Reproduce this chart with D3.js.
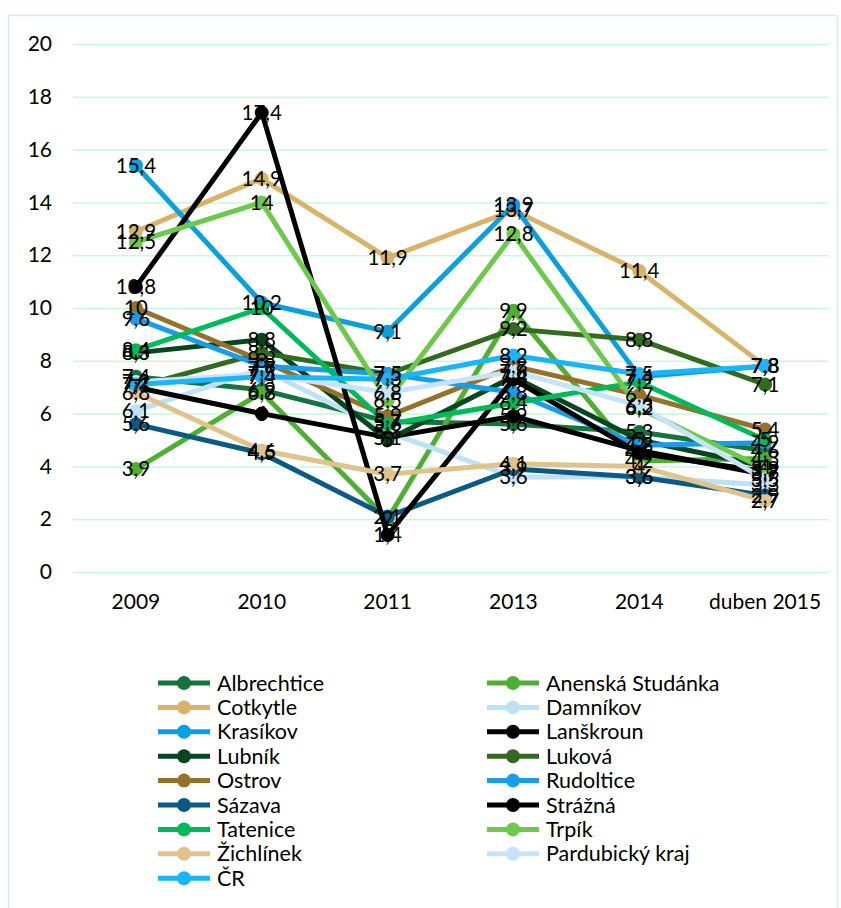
<!DOCTYPE html>
<html><head><meta charset="utf-8">
<script src="https://cdn.jsdelivr.net/npm/d3@7"></script>
<style>
body{margin:0;background:#fff;}
svg{font-family:Lato,"Noto Sans",sans-serif;}
</style></head><body>
<svg id="c" width="841" height="908"></svg>
<script>
const categories = ["2009","2010","2011","2013","2014","duben 2015"];
const yTicks = [0,2,4,6,8,10,12,14,16,18,20];
const seriesNames = ["Albrechtice","Anenská Studánka","Cotkytle","Damníkov","Krasíkov","Lanškroun","Lubník","Luková","Ostrov","Rudoltice","Sázava","Strážná","Tatenice","Trpík","Žichlínek","Pardubický kraj","ČR"];
const seriesColors = ["#17733d","#4faf32","#d9b36a","#bfe1f6","#0a9fe0","#000000","#08461f","#326b20","#95722a","#1b9ceb","#0b5a86","#000000","#00b95b","#6cc94b","#e0c38c","#c6e4f8","#19b5f7"];
const vAlbrechtice   = [7.4, 6.9, 5.7, 5.6, 5.3, 4.6];
const vAnenska       = [3.9, 6.8, 2.0, 9.9, 4.2, 4.3];
const vCotkytle      = [12.9, 14.9, 11.9, 13.7, 11.4, 7.8];
const vDamnikov      = [6.1, 7.7, 5.3, 3.6, 3.6, 3.3];
const vKrasikov      = [15.4, 10.2, 9.1, 13.9, 7.4, 7.8];
const vLanskroun     = [7.0, 6.0, 5.1, 5.9, 4.6, 3.7];
const vLubnik        = [8.3, 8.8, 5.0, 7.4, 5.0, 4.0];
const vLukova        = [7.0, 8.3, 7.5, 9.2, 8.8, 7.1];
const vOstrov        = [10.0, 8.0, 5.9, 7.8, 6.7, 5.4];
const vRudoltice     = [9.6, 7.8, 7.5, 6.8, 4.8, 4.9];
const vSazava        = [5.6, 4.5, 2.1, 3.9, 3.6, 2.9];
const vStrazna       = [10.8, 17.4, 1.4, 7.3, 4.5, 3.8];
const vTatenice      = [8.4, 10.0, 5.6, 6.4, 7.2, 5.0];
const vTrpik         = [12.5, 14.0, 6.5, 12.8, 6.2, 3.9];
const vZichlinek     = [6.8, 4.6, 3.7, 4.1, 4.0, 2.7];
const vPardubicky    = [7.2, 7.5, 6.8, 7.6, 6.3, 3.5];
const vCR            = [7.1, 7.4, 7.3, 8.2, 7.5, 7.8];
const seriesValues = [vAlbrechtice,vAnenska,vCotkytle,vDamnikov,vKrasikov,vLanskroun,vLubnik,vLukova,vOstrov,vRudoltice,vSazava,vStrazna,vTatenice,vTrpik,vZichlinek,vPardubicky,vCR];

const series = seriesNames.map((n,i)=>({name:n,color:seriesColors[i],values:seriesValues[i]}));
const svg = d3.select("#c");
const grid = "#c9f7dd";
svg.append("rect").attr("x",8.5).attr("y",15.5).attr("width",829).attr("height",905)
  .attr("fill","none").attr("stroke",grid).attr("stroke-width",1.5);

const x = d3.scaleBand().domain(categories).range([73,828]);
const y = d3.scaleLinear().domain([0,20]).range([572,44]);
const fmt = v => String(v).replace(".",",");

const gy = svg.append("g").attr("transform","translate(73,0)")
  .call(d3.axisLeft(y).tickValues(yTicks).tickSize(-755).tickPadding(21).tickFormat(d=>d));
gy.select(".domain").remove();
gy.selectAll(".tick line").attr("stroke",grid).attr("stroke-width",1.5);
gy.selectAll(".tick text").attr("font-size",21).attr("fill","#000").attr("font-family","Lato");

const gx = svg.append("g").attr("transform","translate(0,572)")
  .call(d3.axisBottom(x).tickSize(0).tickPadding(22));
gx.select(".domain").remove();
gx.selectAll(".tick text").attr("font-size",21).attr("fill","#000").attr("font-family","Lato");

const cx = c => x(c)+x.bandwidth()/2;
const line = d3.line().x((d,i)=>cx(categories[i])).y(d=>y(d));
const sg = svg.append("g").selectAll("g").data(series).join("g");
sg.append("path").attr("d",d=>line(d.values)).attr("fill","none")
  .attr("stroke",d=>d.color).attr("stroke-width",5).attr("stroke-linejoin","round");
sg.selectAll("circle").data(d=>d.values.map((v,i)=>({v,i,c:d.color}))).join("circle")
  .attr("cx",d=>cx(categories[d.i])).attr("cy",d=>y(d.v)).attr("r",7).attr("fill",d=>d.c);
const lg = svg.append("g");
series.forEach(s=>{
  s.values.forEach((v,i)=>{
    lg.append("text").attr("x",cx(categories[i])).attr("y",y(v)).attr("dy","0.35em")
      .attr("text-anchor","middle").attr("font-size",20.5).attr("fill","#000").text(fmt(v));
  });
});

// legend
const leg = svg.append("g");
series.forEach((s,i)=>{
  const col = i%2, row = Math.floor(i/2);
  const lx = col===0 ? 158 : 487;
  const ly = 683 + row*24.4;
  leg.append("line").attr("x1",lx).attr("x2",lx+52).attr("y1",ly).attr("y2",ly)
    .attr("stroke",s.color).attr("stroke-width",5);
  leg.append("circle").attr("cx",lx+26).attr("cy",ly).attr("r",7).attr("fill",s.color);
  leg.append("text").attr("x",lx+59).attr("y",ly).attr("dy","0.35em").attr("font-size",21.5)
    .attr("fill","#000").text(s.name);
});
</script></body></html>
